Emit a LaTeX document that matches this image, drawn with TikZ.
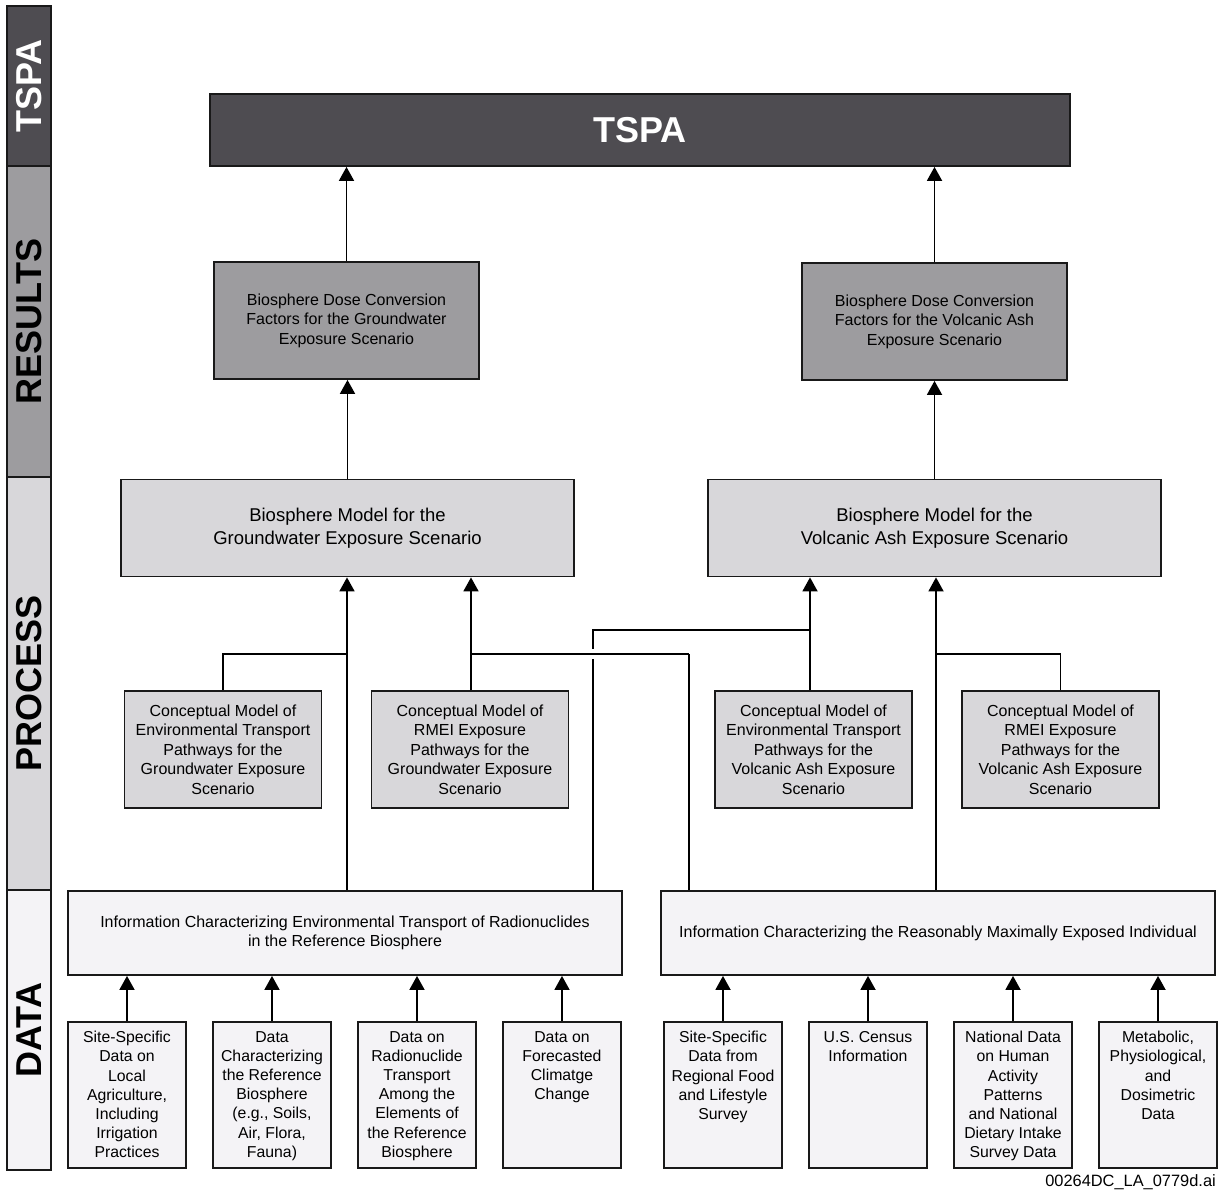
\documentclass[tikz,border=0pt]{standalone}
\usepackage{fontspec}
\setmainfont{Liberation Sans}
\usetikzlibrary{positioning,arrows.meta}

\definecolor{tspagray}{RGB}{78,76,81}
\definecolor{resultgray}{RGB}{157,156,159}
\definecolor{processgray}{RGB}{216,215,218}
\definecolor{datagray}{RGB}{244,243,246}

\tikzset{
    box/.style={draw=black!90, line width=1.8pt, inner sep=0pt, align=center},
    band/.style={box, rotate=90, minimum height=44pt, font=\fontsize{36}{36}\selectfont\bfseries},
    smalltxt/.style={font=\fontsize{16}{19.5}\selectfont},
    bigtxt/.style={font=\fontsize{18.5}{22.5}\selectfont},
    infotxt/.style={font=\fontsize{16}{19}\selectfont},
    resultbox/.style={box, smalltxt, fill=resultgray, minimum width=265pt, minimum height=117pt},
    modelbox/.style={box, bigtxt, fill=processgray, minimum width=453pt, minimum height=97pt},
    conceptbox/.style={box, smalltxt, fill=processgray, minimum width=197pt, minimum height=117pt},
    infobox/.style={box, infotxt, fill=datagray, minimum width=554pt, minimum height=84pt},
    databox/.style={box, fill=datagray, minimum width=118pt, minimum height=146pt},
    datatxt/.style={font=\fontsize{15.8}{19.2}\selectfont, align=center, anchor=north, inner sep=0pt, yshift=-10pt},
    line/.style={line width=1.8pt},
    arr/.style={line, -{Triangle[width=15pt,length=14pt]}},
    hop/.style={line, preaction={draw=white, line width=10pt}},
}

\begin{document}
\begin{tikzpicture}[x=1pt, y=-1pt]
    \path[use as bounding box, fill=white] (0,0) rectangle (1225,1192);

    \node[band, fill=tspagray, text=white, minimum width=160pt] (btspa) at (29,86) {TSPA};
    \node[band, fill=resultgray, minimum width=311pt] (bres) at (29,321.5) {RESULTS};
    \node[band, fill=processgray, minimum width=413pt] (bproc) at (29,683.5) {PROCESS};
    \node[band, fill=datagray, minimum width=280pt] (bdata) at (29,1030) {DATA};

    \node[box, fill=tspagray, text=white, minimum width=860pt, minimum height=72pt,
        font=\fontsize{36}{36}\selectfont\bfseries] (tspa) at (640,130) {TSPA};

    \node[resultbox] (rg) at (346.5,320.5) {Biosphere Dose Conversion\\Factors for the Groundwater\\Exposure Scenario};
    \node[resultbox] (rv) at (934.5,321.5) {Biosphere Dose Conversion\\Factors for the Volcanic Ash\\Exposure Scenario};

    \node[modelbox] (bg) at (347.5,528) {Biosphere Model for the\\Groundwater Exposure Scenario};
    \node[modelbox] (bv) at (934.5,528) {Biosphere Model for the\\Volcanic Ash Exposure Scenario};

    \node[conceptbox] (cg1) at (223,749.5) {Conceptual Model of\\Environmental Transport\\Pathways for the\\Groundwater Exposure\\Scenario};
    \node[conceptbox, right=48.2pt of cg1] (cg2) {Conceptual Model of\\RMEI Exposure\\Pathways for the\\Groundwater Exposure\\Scenario};
    \node[conceptbox, right=144.7pt of cg2] (cv1) {Conceptual Model of\\Environmental Transport\\Pathways for the\\Volcanic Ash Exposure\\Scenario};
    \node[conceptbox, right=48.2pt of cv1] (cv2) {Conceptual Model of\\RMEI Exposure\\Pathways for the\\Volcanic Ash Exposure\\Scenario};

    \node[infobox] (infoE) at (345,933) {Information Characterizing Environmental Transport of Radionuclides\\in the Reference Biosphere};
    \node[infobox, right=37.2pt of infoE] (infoR) {Information Characterizing the Reasonably Maximally Exposed Individual};

    \node[databox, label={[datatxt]north:Site-Specific\\Data on\\Local\\Agriculture,\\Including\\Irrigation\\Practices}] (d1) at (127,1095) {};
    \node[databox, right=25.2pt of d1, label={[datatxt]north:Data\\Characterizing\\the Reference\\Biosphere\\(e.g., Soils,\\Air, Flora,\\Fauna)}] (d2) {};
    \node[databox, right=25.2pt of d2, label={[datatxt]north:Data on\\Radionuclide\\Transport\\Among the\\Elements of\\the Reference\\Biosphere}] (d3) {};
    \node[databox, right=25.2pt of d3, label={[datatxt]north:Data on\\Forecasted\\Climatge\\Change}] (d4) {};
    \node[databox, right=41.2pt of d4, label={[datatxt]north:Site-Specific\\Data from\\Regional Food\\and Lifestyle\\Survey}] (d5) {};
    \node[databox, right=25.2pt of d5, label={[datatxt]north:U.S. Census\\Information}] (d6) {};
    \node[databox, right=25.2pt of d6, label={[datatxt]north:National Data\\on Human\\Activity\\Patterns\\and National\\Dietary Intake\\Survey Data}] (d7) {};
    \node[databox, right=25.2pt of d7, label={[datatxt]north:Metabolic,\\Physiological,\\and\\Dosimetric\\Data}] (d8) {};

    \node[anchor=base east, inner sep=0pt, font=\fontsize{16.4}{16.4}\selectfont] (tag) at (1216,1186) {00264DC\_LA\_0779d.ai};

    \coordinate (j1) at (347,654);
    \coordinate (j2) at (471,654);
    \coordinate (j3) at (689,654);
    \coordinate (j4) at (593,630);
    \coordinate (j5) at (810,630);
    \coordinate (j6) at (936,654);

    \draw[arr] (rg.north) -- (rg.north |- tspa.south);
    \draw[arr] (rv.north) -- (rv.north |- tspa.south);
    \draw[arr] (bg.north) -- (bg.north |- rg.south);
    \draw[arr] (bv.north) -- (bv.north |- rv.south);

    \draw[arr] (infoE.north -| j1) -- (j1 |- bg.south);
    \draw[line] (cg1.north) |- (j1);
    \draw[line] (infoE.north -| j4) |- (j5);
    \draw[hop] (j3) -- (j2);
    \draw[arr] (cg2.north -| j2) -- (j2 |- bg.south);
    \draw[line] (infoR.north -| j3) -- (j3);

    \draw[arr] (cv1.north -| j5) -- (j5 |- bv.south);
    \draw[arr] (infoR.north -| j6) -- (j6 |- bv.south);
    \draw[line] (cv2.north) |- (j6);

    \foreach \d in {d1,d2,d3,d4}
        \draw[arr] (\d.north) -- (\d.north |- infoE.south);
    \foreach \d in {d5,d6,d7,d8}
        \draw[arr] (\d.north) -- (\d.north |- infoR.south);
\end{tikzpicture}
\end{document}
